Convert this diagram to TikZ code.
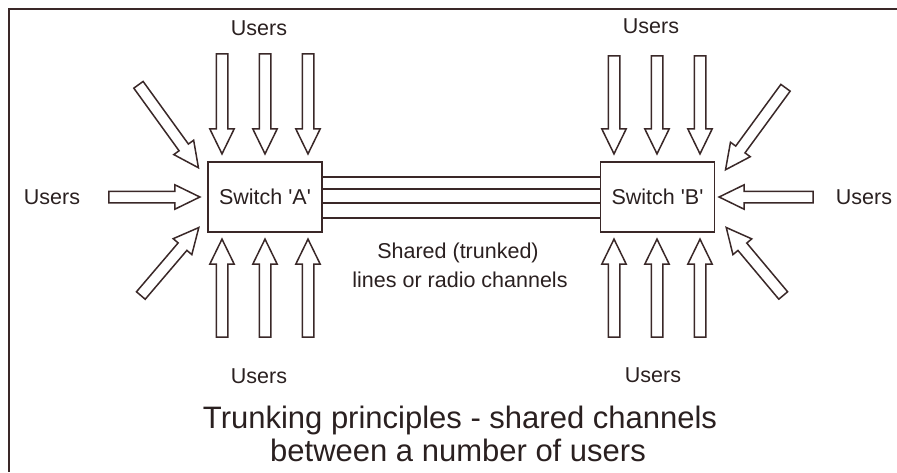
\documentclass[tikz,border=0pt]{standalone}
\usepackage{fontspec}
\setmainfont{Liberation Sans}
\usetikzlibrary{calc,shapes.arrows}
\definecolor{ink}{HTML}{3A2828}
\definecolor{txt}{HTML}{2A2020}
\tikzset{
  blockarrow/.style={single arrow, draw=ink, fill=white, line width=1.5pt,
    minimum width=24pt, single arrow head extend=6.5pt,
    single arrow tip angle=52, single arrow head indent=0pt,
    inner sep=0pt, outer sep=0pt},
  switchbox/.style={draw=ink, line width=1.5pt, minimum width=114pt, minimum height=70pt,
    inner sep=0pt, font=\fontsize{21.5}{25}\selectfont, text=txt},
  lbl/.style={font=\fontsize{21.5}{25}\selectfont, text=txt, inner sep=0pt},
  captiontext/.style={font=\fontsize{31}{36}\selectfont, text=txt, inner sep=0pt},
  trunk/.style={draw=ink, line width=1.5pt},
}
\newcommand\blockarr[2]{%
  \path let \p1=(#1), \p2=(#2), \n1={atan2(\y2-\y1,\x2-\x1)},
    \n2={veclen(\x2-\x1,\y2-\y1)} in
    node[blockarrow, rotate=\n1, minimum height=\n2] at ($(#1)!0.5!(#2)$) {\rule{0pt}{10pt}};}
\begin{document}
\begin{tikzpicture}[x=1pt,y=-1pt]
\useasboundingbox (0,0) rectangle (897,472);
\fill[white] (0,0) rectangle (897,472);
\draw[ink, line width=2pt] (897,9) -- (9,9) -- (9,472);

\node[switchbox] (A) at (265,197) {Switch \textquotesingle A\textquotesingle};
\node[switchbox] (B) at (657.5,197) {Switch \textquotesingle B\textquotesingle};

% trunk lines
\foreach \yy [count=\i] in {177,189,203,218}{
  \coordinate (ta\i) at (A.east |- 0,\yy);
  \coordinate (tb\i) at (B.west |- 0,\yy);
  \draw[trunk] (ta\i) -- (tb\i);
}

% labels
\node[lbl] (uAt) at (259,28) {Users};
\node[lbl] (uBt) at (651,26) {Users};
\node[lbl] (uAl) at (52,197) {Users};
\node[lbl] (uBr) at (864,197) {Users};
\node[lbl] (uAb) at (259,376) {Users};
\node[lbl] (uBb) at (653,375) {Users};
\node[lbl] (sh1) at (458,253) {Shared (trunked)};
\node[lbl] (sh2) at (460,280) {lines or radio channels};
\node[captiontext] (c1) at (460,420) {Trunking principles - shared channels};
\node[captiontext] (c2) at (458,450) {between a number of users};

% Switch A arrows
\foreach \xx [count=\i] in {222,265,308}{
  \coordinate (aT\i) at (\xx,48);
  \coordinate (aTt\i) at (\xx,148);
  \blockarr{aT\i}{aTt\i}
  \coordinate (aB\i) at (\xx,343);
  \coordinate (aBt\i) at (\xx,245);
  \blockarr{aB\i}{aBt\i}
}
\coordinate (aL) at (103,197);
\coordinate (aLt) at (194,197);
\blockarr{aL}{aLt}
\coordinate (aUL) at (135,80);
\coordinate (aULt) at (195,163);
\blockarr{aUL}{aULt}
\coordinate (aDL) at (137,300);
\coordinate (aDLt) at (195,232);
\blockarr{aDL}{aDLt}

% Switch B arrows
\foreach \xx [count=\i] in {614,657,700}{
  \coordinate (bT\i) at (\xx,50);
  \coordinate (bTt\i) at (\xx,148);
  \blockarr{bT\i}{bTt\i}
  \coordinate (bB\i) at (\xx,343);
  \coordinate (bBt\i) at (\xx,245);
  \blockarr{bB\i}{bBt\i}
}
\coordinate (bR) at (819,197);
\coordinate (bRt) at (725,197);
\blockarr{bR}{bRt}
\coordinate (bUR) at (789,83);
\coordinate (bURt) at (729,165);
\blockarr{bUR}{bURt}
\coordinate (bDR) at (787,300);
\coordinate (bDRt) at (730,232);
\blockarr{bDR}{bDRt}
\end{tikzpicture}
\end{document}
